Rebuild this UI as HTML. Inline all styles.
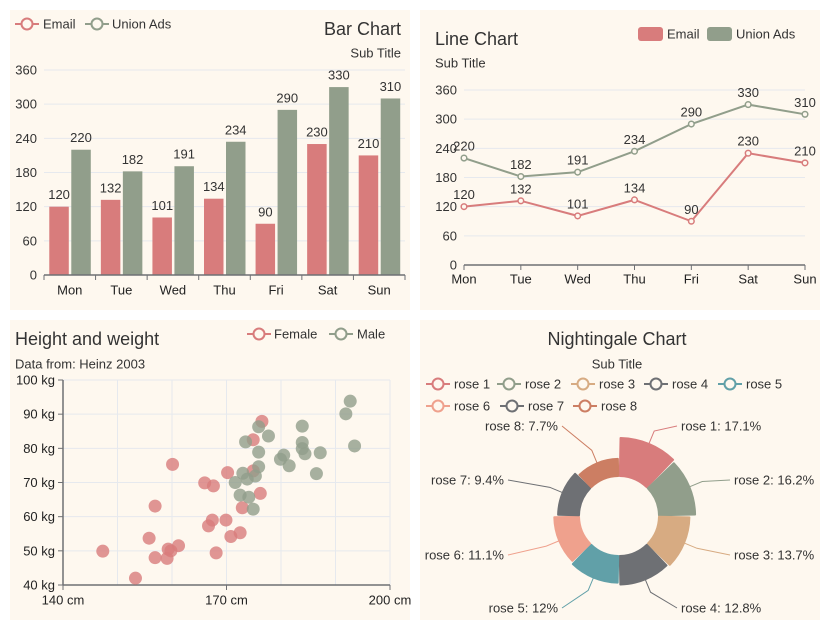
<!DOCTYPE html>
<html><head><meta charset="utf-8"><style>
html,body{margin:0;padding:0;background:#fff;width:830px;height:630px;overflow:hidden}
svg{display:block;font-family:"Liberation Sans",sans-serif}
</style></head><body>
<svg id="s" width="830" height="630" viewBox="0 0 830 630" xmlns="http://www.w3.org/2000/svg">
<rect x="10" y="10" width="400" height="300" fill="#fef8ef"/>
<rect x="420" y="10" width="400" height="300" fill="#fef8ef"/>
<rect x="10" y="320" width="400" height="300" fill="#fef8ef"/>
<rect x="420" y="320" width="400" height="300" fill="#fef8ef"/>
<g id="g"></g>
</svg>
<script>
const days = ['Mon','Tue','Wed','Thu','Fri','Sat','Sun'];
const emailValues = [120,132,101,134,90,230,210];
const unionValues = [220,182,191,234,290,330,310];
const valueTicks = [0,60,120,180,240,300,360];
const femaleHeights = [147.3,153.3,155.8,156.9,156.9,159.1,159.3,159.8,161.2,160.1,166.0,167.6,166.7,167.4,168.1,169.9,170.2,170.8,172.5,172.9,174.9,174.9,176.2,176.5];
const femaleWeights = [49.9,42.0,53.7,63.1,48.0,47.8,50.5,50.0,51.5,75.3,69.9,69.0,57.3,59.0,49.4,59.0,72.9,54.2,55.3,62.6,82.5,73.4,66.8,87.9];
const maleHeights = [171.6,172.5,173.0,173.5,173.8,174.1,174.9,175.3,175.9,175.9,175.9,177.7,179.9,180.5,181.5,183.9,183.9,183.9,184.4,186.5,187.2,191.9,192.7,193.5];
const maleWeights = [70.0,66.3,72.7,81.9,71.0,65.7,62.2,71.9,74.6,78.9,86.3,83.6,76.8,78.0,74.9,86.5,81.7,79.9,78.4,72.6,78.7,90.1,93.8,80.7];
const heightTicks = [140,170,200];
const weightTicks = [40,50,60,70,80,90,100];
const roseNames = ['rose 1','rose 2','rose 3','rose 4','rose 5','rose 6','rose 7','rose 8'];
const roseValues = [40,38,32,30,28,26,22,18];

const NS='http://www.w3.org/2000/svg';
const G=document.getElementById('g');
function mk(tag,attrs,parent){const e=document.createElementNS(NS,tag);for(const k in attrs)e.setAttribute(k,attrs[k]);(parent||G).appendChild(e);return e;}
function tx(x,y,s,opt){opt=opt||{};const e=mk('text',{x:x,y:y,'font-size':opt.fs||13,fill:opt.fill||'#333','text-anchor':opt.anchor||'start','dominant-baseline':'central'});e.textContent=s;return e;}
const RED='#d87c7c',GREEN='#919e8b';
function lineIcon(x,y,c){const g=mk('g',{});mk('line',{x1:x,y1:y,x2:x+24,y2:y,stroke:c,'stroke-width':2},g);mk('circle',{cx:x+12,cy:y,r:5.5,fill:'#fef8ef',stroke:c,'stroke-width':2},g);return g;}

// ---- Bar chart
(function(){
 const x0=44,x1=405,yb=275,yt=70,vmax=360;
 const y=v=>yb-(v/vmax)*(yb-yt);
 const bw=(x1-x0)/days.length;
 valueTicks.forEach(t=>{
  if(t>0){const l=mk('line',{x1:x0,x2:x1,y1:y(t),y2:y(t),stroke:'#e6e9ee','stroke-width':1});}
  const e=tx(37,y(t),String(t),{anchor:'end'});
 });
 days.forEach((d,i)=>{
  const c=x0+bw*(i+0.5);
  const r1=mk('rect',{x:c-20.5,y:y(emailValues[i]),width:19.5,height:yb-y(emailValues[i]),fill:RED});
  
  const r2=mk('rect',{x:c+1.5,y:y(unionValues[i]),width:19.5,height:yb-y(unionValues[i]),fill:GREEN});
  
  const l1=tx(c-10.7,y(emailValues[i])-12,String(emailValues[i]),{anchor:'middle'});
  const l2=tx(c+11.2,y(unionValues[i])-12,String(unionValues[i]),{anchor:'middle'});
  const xl=tx(c,290,d,{anchor:'middle',fill:'#222'});
  mk('line',{x1:x0+bw*i,x2:x0+bw*i,y1:yb,y2:yb+5,stroke:'#6e7074'});
 });
 mk('line',{x1:x1,x2:x1,y1:yb,y2:yb+5,stroke:'#6e7074'});
 const ax=mk('line',{x1:x0,x2:x1,y1:yb,y2:yb,stroke:'#6e7074','stroke-width':1.5});
 const t=tx(401,29,'Bar Chart',{fs:18,anchor:'end'});
 const st=tx(401,53,'Sub Title',{anchor:'end'});
 const i1=lineIcon(15,24,RED);
 const e1=tx(43,24,'Email');
 const i2=lineIcon(85,24,GREEN);
 const e2=tx(112,24,'Union Ads');
})();

// ---- Line chart
(function(){
 const x0=464,x1=805,yb=265,yt=90,vmax=360;
 const y=v=>yb-(v/vmax)*(yb-yt);
 const x=i=>x0+(x1-x0)*i/(days.length-1);
 valueTicks.forEach(t=>{
  if(t>0){const l=mk('line',{x1:x0,x2:x1,y1:y(t),y2:y(t),stroke:'#e6e9ee'});}
  const e=tx(457,y(t),String(t),{anchor:'end'});
 });
 days.forEach((d,i)=>{
  mk('line',{x1:x(i),x2:x(i),y1:yb,y2:yb+5,stroke:'#6e7074'});
  const e=tx(x(i),279,d,{anchor:'middle',fill:'#222'});
 });
 const ax=mk('line',{x1:x0,x2:x1,y1:yb,y2:yb,stroke:'#6e7074','stroke-width':1.5});
 [[unionValues,GREEN,'union'],[emailValues,RED,'email']].forEach(([vals,c,n])=>{
  const p=mk('polyline',{points:vals.map((v,i)=>x(i)+','+y(v)).join(' '),fill:'none',stroke:c,'stroke-width':2});
  
  vals.forEach((v,i)=>{
   const pt=mk('circle',{cx:x(i),cy:y(v),r:2.8,fill:'#fef8ef',stroke:c,'stroke-width':1.5});
   
   const l=tx(x(i),y(v)-12,String(v),{anchor:'middle'});
  });
 });
 const t=tx(435,39,'Line Chart',{fs:18});
 const st=tx(435,63,'Sub Title');
 const r1=mk('rect',{x:638,y:27,width:25,height:14,rx:3,fill:RED});
 const e1=tx(667,34,'Email');
 const r2=mk('rect',{x:707,y:27,width:25,height:14,rx:3,fill:GREEN});
 const e2=tx(736,34,'Union Ads');
})();

// ---- Scatter
(function(){
 const x0=63,x1=390,yb=585,yt=380;
 const x=v=>x0+(v-140)/60*(x1-x0);
 const y=v=>yb-(v-40)/60*(yb-yt);
 for(let h=150;h<=200;h+=10){const l=mk('line',{x1:x(h),x2:x(h),y1:yt,y2:yb,stroke:'#e6e9ee'});}
 weightTicks.forEach(t=>{
  if(t>40){const l=mk('line',{x1:x0,x2:x1,y1:y(t),y2:y(t),stroke:'#e6e9ee'});}
  mk('line',{x1:x0-5,x2:x0,y1:y(t),y2:y(t),stroke:'#6e7074'});
  const e=tx(55,y(t),t+' kg',{anchor:'end',fill:'#222'});
 });
 heightTicks.forEach(t=>{
  mk('line',{x1:x(t),x2:x(t),y1:yb,y2:yb+5,stroke:'#6e7074'});
  const e=tx(x(t),600,t+' cm',{anchor:'middle',fill:'#222'});
 });
 mk('line',{x1:x0,x2:x0,y1:yt,y2:yb,stroke:'#6e7074','stroke-width':1.5});
 mk('line',{x1:x0,x2:x1,y1:yb,y2:yb,stroke:'#6e7074','stroke-width':1.5});
 femaleHeights.forEach((h,i)=>{const c=mk('circle',{cx:x(h),cy:y(femaleWeights[i]),r:6.5,fill:RED,'fill-opacity':0.8});});
 maleHeights.forEach((h,i)=>{const c=mk('circle',{cx:x(h),cy:y(maleWeights[i]),r:6.5,fill:GREEN,'fill-opacity':0.8});});
 const t=tx(15,339,'Height and weight',{fs:18});
 const st=tx(15,364,'Data from: Heinz 2003');
 const i1=lineIcon(247,334,RED);
 const e1=tx(274,334,'Female');
 const i2=lineIcon(329,334,GREEN);
 const e2=tx(357,334,'Male');
})();

// ---- Nightingale
(function(){
 const cols=['#d87c7c','#919e8b','#d7ab82','#6e7074','#61a0a8','#efa18d','#6e7074','#cc7e63'];
 const cx=619,cy=516,r0=40,rmax=78;
 const total=roseValues.reduce((a,b)=>a+b,0);
 const vmax=Math.max(...roseValues);
 const n=roseValues.length, step=2*Math.PI/n;
 const pt=(a,r)=>[cx+r*Math.sin(a),cy-r*Math.cos(a)];
 const labelPos=[[681,426,'start'],[734,480,'start'],[734,555,'start'],[681,608,'start'],[558,608,'end'],[504,555,'end'],[504,480,'end'],[558,426,'end']];
 roseValues.forEach((v,i)=>{
  const r=r0+(rmax-r0)*v/vmax;
  const a0=i*step+0.02,a1=(i+1)*step-0.02;
  const p1=pt(a0,r0),p2=pt(a0,r),p3=pt(a1,r),p4=pt(a1,r0);
  const d=`M${p1}L${p2}A${r},${r} 0 0 1 ${p3}L${p4}A${r0},${r0} 0 0 0 ${p1}Z`;
  const s=mk('path',{d:d,fill:cols[i],stroke:cols[i],'stroke-width':2,'stroke-linejoin':'round'});
  
  const am=(i+0.5)*step;const pa=pt(am,r-3),pb=pt(am,r+14);
  const lp=labelPos[i];const ex=lp[2]==='start'?lp[0]-4:lp[0]+4;
  const ln=mk('polyline',{points:`${pa} ${pb} ${ex},${lp[1]}`,fill:'none',stroke:cols[i],'stroke-width':1});
  
  const pct=Math.round(v/total*1000)/10;
  const l=tx(lp[0],lp[1],roseNames[i]+': '+pct+'%',{anchor:lp[2]});
 });
 const t=tx(617,339,'Nightingale Chart',{fs:18,anchor:'middle'});
 const st=tx(617,364,'Sub Title',{anchor:'middle'});
 const lx=[426,497,571,644,718,426,500,573],ly=[384,384,384,384,384,406,406,406];
 roseNames.forEach((nm,i)=>{
  const ic=lineIcon(lx[i],ly[i],cols[i]);
  const e=tx(lx[i]+28,ly[i],nm);
 });
})();
</script>
</body></html>
